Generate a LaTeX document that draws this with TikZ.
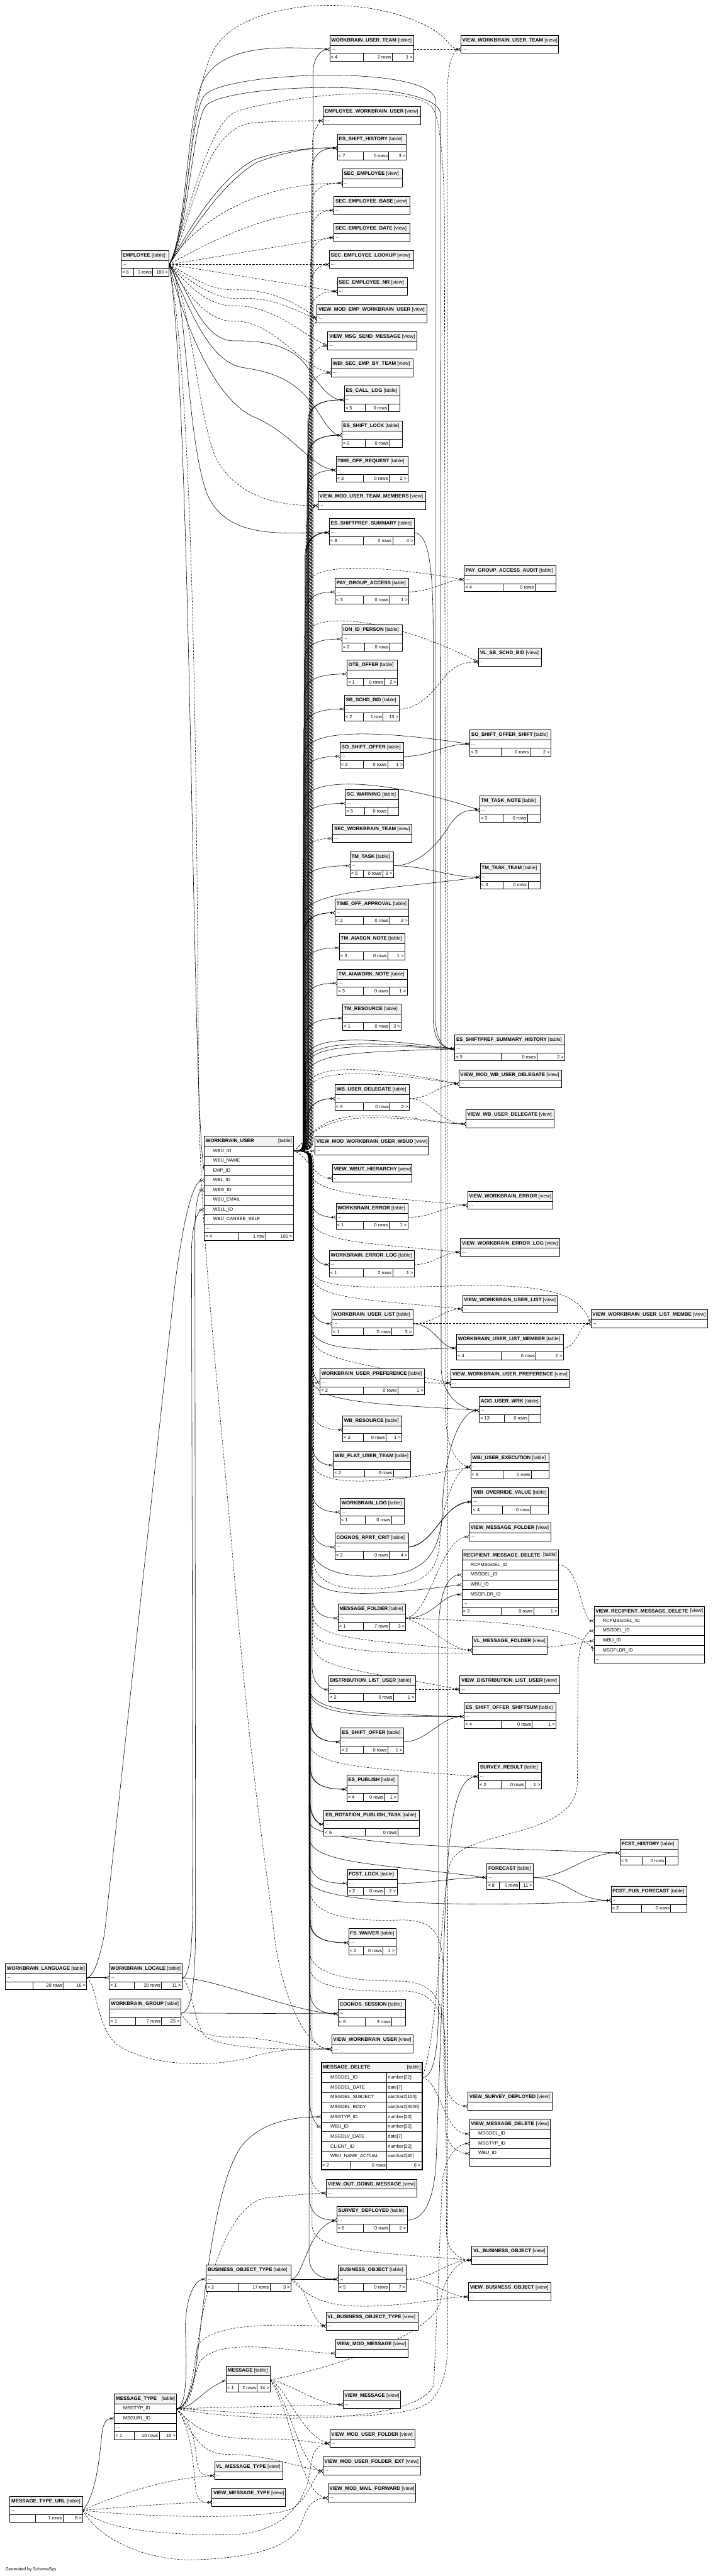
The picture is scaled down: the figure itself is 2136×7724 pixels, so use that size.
\documentclass[tikz,border=0pt]{standalone}
\usepackage{fontspec}
\setmainfont{Liberation Sans}
\usetikzlibrary{arrows.meta}
\pgfdeclarelayer{back}
\pgfdeclarelayer{bg}
\pgfsetlayers{back,bg,main}
\tikzset{
  bl/.style={line width=0.8pt},
  tf/.style={fill=black!5},
  tt/.style={inner sep=0pt,anchor=west,font=\fontsize{7.5}{9}\selectfont},
  rt/.style={inner sep=0pt,font=\fontsize{7}{8}\selectfont},
  st/.style={line width=0.55pt,-{Circle[open,length=3.5pt,width=3.5pt,line width=0.5pt]Straight Barb[reversed,length=3pt,width=5pt,line width=0.5pt]}},
  ik/.style={st,dash pattern=on 3pt off 2pt},
}
% view box
\newcommand\tv[5]{%
 \fill[white] (#2,#3) rectangle (#4,#3+54);
 \fill[tf] (#2,#3) rectangle (#4,#3+30);
 \draw[bl] (#2,#3) rectangle (#4,#3+54) (#2,#3+30) -- (#4,#3+30);
 \node[tt] (#1) at (#2+4,#3+15) {\textbf{#5} [view]};
 \node[rt,anchor=west] (#1-dots) at (#2+4,#3+43) {...};
 \coordinate (#1-in) at (#2,#3+42);
 \coordinate (#1-out) at (#4,#3+42);}
% table box
\newcommand\tbh[5]{%
 \fill[white] (#2,#3) rectangle (#4,#3+78);
 \fill[tf] (#2,#3) rectangle (#4,#3+30);
 \draw[bl] (#2,#3) rectangle (#4,#3+78) (#2,#3+30) -- (#4,#3+30) (#2,#3+54) -- (#4,#3+54);
 \node[tt] (#1) at (#2+4,#3+15) {\textbf{#5} [table]};
 \node[rt,anchor=west] (#1-dots) at (#2+4,#3+43) {...};
 \coordinate (#1-in) at (#2,#3+42);
 \coordinate (#1-out) at (#4,#3+42);}
\newcommand\tbf[9]{%
 \draw[bl] (#5,#3+54) -- (#5,#3+78) (#6,#3+54) -- (#6,#3+78);
 \node[rt,anchor=west] (#1-fl) at (#2+3,#3+66) {#7};
 \node[rt,anchor=east] (#1-fm) at (#6-3,#3+66) {#8};
 \node[rt,anchor=east] (#1-fr) at (#4-3,#3+66) {#9};}
% column rows
\newcommand\crow[6]{%
 \filldraw[bl,fill=white] (#2,#4) rectangle (#3,#5);
 \node[rt,anchor=west] (#1) at (#2+26,{(#4+#5)/2}) {#6};}
\newcommand\ctitle[6]{%
 \filldraw[bl,fill=black!5] (#2,#4) rectangle (#3,#4+30);
 \node[tt] (#1) at (#2+4,#4+15) {\textbf{#5}};
 \node[tt,anchor=east] (#1-k) at (#3-4,#4+15) {#6};}
\newcommand\mdrow[4]{%
 \draw[bl] (963,#2) -- (1265,#2);
 \node[rt,anchor=west] (#1) at (990,#2+14.75) {#3};
 \node[rt,anchor=west] (#1t) at (1162,#2+14.75) {#4};}
% bundle edges from WORKBRAIN_USER
\newcommand\wU[4]{\draw[#1] (wu-out) .. controls (#3,3451) and (#3,3445) .. (#3,3400) -- (#3,{#4+70}) .. controls (#3,{#4+25}) and ({#3+25},#4) .. (#2);}
\newcommand\wR[5]{\draw[#1] (wu-out) .. controls (#3,3451) and (#3,3445) .. (#3,3400) -- (#3,{#4-(#5)+80}) .. controls (#3,{#4-(#5)}) and +(-300,{-(#5)}) .. (#2);}
\newcommand\wD[4]{\draw[#1] (wu-out) .. controls (#3,3451) and (#3,3457) .. (#3,3500) -- (#3,{#4-70}) .. controls (#3,{#4-25}) and ({#3+25},#4) .. (#2);}
\newcommand\wRd[5]{\draw[#1] (wu-out) .. controls (#3,3451) and (#3,3457) .. (#3,3500) -- (#3,{#4-(#5)-80}) .. controls (#3,{#4-(#5)}) and +(-300,{-(#5)}) .. (#2);}
\begin{document}
\catcode`\_=12
\begin{tikzpicture}[x=0.5pt,y=-0.5pt]
\begin{pgfonlayer}{back}\fill[white] (0,0) rectangle (2136,7724);\end{pgfonlayer}
\useasboundingbox (0,0) rectangle (2136,7724);

% ---------------- views
\tv{vwut}{1381}{106}{1674}{VIEW_WORKBRAIN_USER_TEAM}
\tv{ewu}{969}{320}{1261}{EMPLOYEE_WORKBRAIN_USER}
\tv{se}{1026}{507}{1205}{SEC_EMPLOYEE}
\tv{seb}{1001}{589}{1229}{SEC_EMPLOYEE_BASE}
\tv{sed}{1001}{670}{1229}{SEC_EMPLOYEE_DATE}
\tv{sel}{987}{751}{1240}{SEC_EMPLOYEE_LOOKUP}
\tv{senr}{1011}{832}{1220}{SEC_EMPLOYEE_NR}
\tv{vmewu}{950}{914}{1279}{VIEW_MOD_EMP_WORKBRAIN_USER}
\tv{vmsm}{982}{995}{1249}{VIEW_MSG_SEND_MESSAGE}
\tv{wsebt}{993}{1076}{1237}{WBI_SEC_EMP_BY_TEAM}
\tv{vmutm}{953}{1474}{1275}{VIEW_MOD_USER_TEAM_MEMBERS}
\tv{vssb}{1434}{1943}{1623}{VL_SB_SCHD_BID}
\tv{swt}{997}{2472}{1234}{SEC_WORKBRAIN_TEAM}
\tv{vmwud}{1375}{3208}{1682}{VIEW_MOD_WB_USER_DELEGATE}
\tv{vwud}{1396}{3328}{1660}{VIEW_WB_USER_DELEGATE}
\tv{vmwuw}{944}{3409}{1284}{VIEW_MOD_WORKBRAIN_USER_WBUD}
\tv{vwh}{996}{3491}{1235}{VIEW_WBUT_HIERARCHY}
\tv{vwe}{1401}{3572}{1657}{VIEW_WORKBRAIN_ERROR}
\tv{vwel}{1380}{3713}{1677}{VIEW_WORKBRAIN_ERROR_LOG}
\tv{vwul}{1386}{3883}{1670}{VIEW_WORKBRAIN_USER_LIST}
\tv{vwulm}{1771}{3927}{2120}{VIEW_WORKBRAIN_USER_LIST_MEMBE}
\tv{vwup}{1351}{4106}{1705}{VIEW_WORKBRAIN_USER_PREFERENCE}
\tv{vmf}{1406}{4566}{1651}{VIEW_MESSAGE_FOLDER}
\tv{vlmf}{1415}{4906}{1640}{VL_MESSAGE_FOLDER}
\tv{vdlu}{1378}{5024}{1678}{VIEW_DISTRIBUTION_LIST_USER}
\tv{vwu}{994}{6102}{1237}{VIEW_WORKBRAIN_USER}
\tv{vsd}{1402}{6273}{1654}{VIEW_SURVEY_DEPLOYED}
\tv{vogm}{978}{6534}{1250}{VIEW_OUT_GOING_MESSAGE}
\tv{vlbo}{1414}{6735}{1641}{VL_BUSINESS_OBJECT}
\tv{vbo}{1404}{6845}{1651}{VIEW_BUSINESS_OBJECT}
\tv{vlbot}{977}{6933}{1252}{VL_BUSINESS_OBJECT_TYPE}
\tv{vmm}{1005}{7014}{1223}{VIEW_MOD_MESSAGE}
\tv{vm}{1028}{7168}{1201}{VIEW_MESSAGE}
\tv{vmuf}{988}{7285}{1244}{VIEW_MOD_USER_FOLDER}
\tv{vmufe}{968}{7367}{1261}{VIEW_MOD_USER_FOLDER_EXT}
\tv{vlmt}{643}{7381}{847}{VL_MESSAGE_TYPE}
\tv{vmmf}{983}{7448}{1245}{VIEW_MOD_MAIL_FORWARD}
\tv{vmt}{635}{7461}{855}{VIEW_MESSAGE_TYPE}

% ---------------- tables
\tbh{wut}{988}{106}{1240}{WORKBRAIN_USER_TEAM}\tbf{wut}{988}{106}{1240}{1088}{1176}{< 4}{2 rows}{1 >}
\tbh{esh}{1011}{402}{1218}{ES_SHIFT_HISTORY}\tbf{esh}{1011}{402}{1218}{1088}{1165}{< 7}{0 rows}{3 >}
\tbh{emp}{363}{751}{507}{EMPLOYEE}\tbf{emp}{363}{751}{507}{401}{458}{< 6}{3 rows}{180 >}
\tbh{ecl}{1032}{1157}{1198}{ES_CALL_LOG}\tbf{ecl}{1032}{1157}{1198}{1095}{1164}{< 5}{0 rows}{}
\tbh{esl}{1024}{1263}{1206}{ES_SHIFT_LOCK}\tbf{esl}{1024}{1263}{1206}{1095}{1168}{< 5}{0 rows}{}
\tbh{tor}{1007}{1368}{1222}{TIME_OFF_REQUEST}\tbf{tor}{1007}{1368}{1222}{1088}{1166}{< 3}{0 rows}{2 >}
\tbh{ess}{987}{1555}{1241}{ES_SHIFTPREF_SUMMARY}\tbf{ess}{987}{1555}{1241}{1088}{1177}{< 8}{0 rows}{4 >}
\tbh{pgaa}{1391}{1696}{1665}{PAY_GROUP_ACCESS_AUDIT}\tbf{pgaa}{1391}{1696}{1665}{1507}{1603}{< 4}{0 rows}{}
\tbh{pga}{1004}{1733}{1225}{PAY_GROUP_ACCESS}\tbf{pga}{1004}{1733}{1225}{1088}{1168}{< 3}{0 rows}{1 >}
\tbh{iip}{1024}{1874}{1205}{ION_ID_PERSON}\tbf{iip}{1024}{1874}{1205}{1093}{1168}{< 2}{0 rows}{}
\tbh{ote}{1040}{1979}{1191}{OTE_OFFER}\tbf{ote}{1040}{1979}{1191}{1088}{1151}{< 1}{0 rows}{2 >}
\tbh{ssb}{1032}{2084}{1197}{SB_SCHD_BID}\tbf{ssb}{1032}{2084}{1197}{1088}{1148}{< 2}{1 row}{13 >}
\tbh{soss}{1408}{2189}{1651}{SO_SHIFT_OFFER_SHIFT}\tbf{soss}{1408}{2189}{1651}{1501}{1588}{< 3}{0 rows}{2 >}
\tbh{sso}{1019}{2226}{1210}{SO_SHIFT_OFFER}\tbf{sso}{1019}{2226}{1210}{1088}{1162}{< 2}{0 rows}{1 >}
\tbh{scw}{1035}{2367}{1195}{SC_WARNING}\tbf{scw}{1035}{2367}{1195}{1093}{1162}{< 5}{0 rows}{}
\tbh{ttn}{1437}{2387}{1619}{TM_TASK_NOTE}\tbf{ttn}{1437}{2387}{1619}{1507}{1581}{< 3}{0 rows}{}
\tbh{tmt}{1049}{2554}{1179}{TM_TASK}\tbf{tmt}{1049}{2554}{1179}{1088}{1147}{< 5}{0 rows}{3 >}
\tbh{ttt}{1439}{2588}{1619}{TM_TASK_TEAM}\tbf{ttt}{1439}{2588}{1619}{1508}{1582}{< 3}{0 rows}{}
\tbh{toa}{1004}{2695}{1225}{TIME_OFF_APPROVAL}\tbf{toa}{1004}{2695}{1225}{1088}{1168}{< 2}{0 rows}{2 >}
\tbh{tan}{1017}{2800}{1213}{TM_AIASGN_NOTE}\tbf{tan}{1017}{2800}{1213}{1088}{1163}{< 3}{0 rows}{1 >}
\tbh{tawn}{1010}{2906}{1220}{TM_AIAWORK_NOTE}\tbf{tawn}{1010}{2906}{1220}{1088}{1167}{< 3}{0 rows}{1 >}
\tbh{tres}{1027}{3011}{1202}{TM_RESOURCE}\tbf{tres}{1027}{3011}{1202}{1088}{1168}{< 1}{0 rows}{3 >}
\tbh{essh}{1363}{3103}{1693}{ES_SHIFTPREF_SUMMARY_HISTORY}\tbf{essh}{1363}{3103}{1693}{1501}{1609}{< 9}{0 rows}{2 >}
\tbh{wud}{1004}{3252}{1226}{WB_USER_DELEGATE}\tbf{wud}{1004}{3252}{1226}{1088}{1169}{< 5}{0 rows}{2 >}
\tbh{we}{1007}{3608}{1222}{WORKBRAIN_ERROR}\tbf{we}{1007}{3608}{1222}{1088}{1166}{< 1}{0 rows}{1 >}
\tbh{wel}{987}{3750}{1241}{WORKBRAIN_ERROR_LOG}\tbf{wel}{987}{3750}{1241}{1088}{1177}{< 1}{2 rows}{1 >}
\tbh{wul}{994}{3927}{1237}{WORKBRAIN_USER_LIST}\tbf{wul}{994}{3927}{1237}{1088}{1174}{< 1}{0 rows}{3 >}
\tbh{wulm}{1368}{4000}{1688}{WORKBRAIN_USER_LIST_MEMBER}\tbf{wulm}{1368}{4000}{1688}{1501}{1606}{< 4}{0 rows}{1 >}
\tbh{wup}{959}{4104}{1272}{WORKBRAIN_USER_PREFERENCE}\tbf{wup}{959}{4104}{1272}{1088}{1192}{< 2}{0 rows}{1 >}
\tbh{auw}{1436}{4187}{1621}{AGG_USER_WRK}\tbf{auw}{1436}{4187}{1621}{1512}{1584}{< 13}{0 rows}{}
\tbh{wbr}{1027}{4245}{1204}{WB_RESOURCE}\tbf{wbr}{1027}{4245}{1204}{1088}{1157}{< 2}{0 rows}{1 >}
\tbh{wfut}{999}{4351}{1231}{WBI_FLAT_USER_TEAM}\tbf{wfut}{999}{4351}{1231}{1093}{1179}{< 2}{0 rows}{}
\tbh{wue}{1411}{4356}{1645}{WBI_USER_EXECUTION}\tbf{wue}{1411}{4356}{1645}{1507}{1593}{< 5}{0 rows}{}
\tbh{wov}{1414}{4461}{1643}{WBI_OVERRIDE_VALUE}\tbf{wov}{1414}{4461}{1643}{1506}{1591}{< 4}{0 rows}{}
\tbh{wlog}{1019}{4492}{1211}{WORKBRAIN_LOG}\tbf{wlog}{1019}{4492}{1211}{1095}{1173}{< 1}{0 rows}{}
\tbh{crc}{1004}{4597}{1224}{COGNOS_RPRT_CRIT}\tbf{crc}{1004}{4597}{1224}{1088}{1167}{< 2}{0 rows}{4 >}
\tbh{mf}{1013}{4810}{1216}{MESSAGE_FOLDER}\tbf{mf}{1013}{4810}{1216}{1088}{1167}{< 1}{7 rows}{3 >}
\tbh{dlu}{985}{5024}{1245}{DISTRIBUTION_LIST_USER}\tbf{dlu}{985}{5024}{1245}{1088}{1179}{< 2}{0 rows}{1 >}
\tbh{esos}{1391}{5105}{1666}{ES_SHIFT_OFFER_SHIFTSUM}\tbf{esos}{1391}{5105}{1666}{1501}{1595}{< 4}{0 rows}{1 >}
\tbh{eso}{1020}{5181}{1209}{ES_SHIFT_OFFER}\tbf{eso}{1020}{5181}{1209}{1088}{1162}{< 2}{0 rows}{1 >}
\tbh{sr}{1434}{5285}{1622}{SURVEY_RESULT}\tbf{sr}{1434}{5285}{1622}{1502}{1574}{< 2}{0 rows}{1 >}
\tbh{esp}{1039}{5323}{1192}{ES_PUBLISH}\tbf{esp}{1039}{5323}{1192}{1088}{1152}{< 4}{0 rows}{1 >}
\tbh{erpt}{971}{5428}{1257}{ES_ROTATION_PUBLISH_TASK}\tbf{erpt}{971}{5428}{1257}{1094}{1193}{< 6}{0 rows}{}
\tbh{fh}{1858}{5514}{2032}{FCST_HISTORY}\tbf{fh}{1858}{5514}{2032}{1924}{1994}{< 5}{0 rows}{}
\tbh{fc}{1459}{5588}{1598}{FORECAST}\tbf{fc}{1459}{5588}{1598}{1497}{1557}{< 8}{0 rows}{11 >}
\tbh{fl}{1041}{5605}{1190}{FCST_LOCK}\tbf{fl}{1041}{5605}{1190}{1088}{1152}{< 2}{0 rows}{2 >}
\tbh{fpf}{1831}{5656}{2058}{FCST_PUB_FORECAST}\tbf{fpf}{1831}{5656}{2058}{1923}{2010}{< 2}{0 rows}{}
\tbh{fw}{1045}{5783}{1186}{FS_WAIVER}\tbf{fw}{1045}{5783}{1186}{1088}{1148}{< 2}{0 rows}{1 >}
\tbh{wlang}{16}{5888}{260}{WORKBRAIN_LANGUAGE}\tbf{wlang}{16}{5888}{260}{98}{191}{}{20 rows}{16 >}
\tbh{wloc}{327}{5888}{546}{WORKBRAIN_LOCALE}\tbf{wloc}{327}{5888}{546}{402}{484}{< 1}{20 rows}{11 >}
\tbh{wgrp}{328}{5994}{542}{WORKBRAIN_GROUP}\tbf{wgrp}{328}{5994}{542}{406}{484}{< 1}{7 rows}{25 >}
\tbh{cs}{1013}{5996}{1215}{COGNOS_SESSION}\tbf{cs}{1013}{5996}{1215}{1094}{1174}{< 6}{3 rows}{}
\tbh{sd}{1009}{6615}{1220}{SURVEY_DEPLOYED}\tbf{sd}{1009}{6615}{1220}{1088}{1167}{< 6}{0 rows}{2 >}
\tbh{bot}{618}{6792}{872}{BUSINESS_OBJECT_TYPE}\tbf{bot}{618}{6792}{872}{714}{809}{< 2}{17 rows}{3 >}
\tbh{bo}{1013}{6792}{1218}{BUSINESS_OBJECT}\tbf{bo}{1013}{6792}{1218}{1088}{1166}{< 5}{0 rows}{7 >}
\tbh{msg}{678}{7094}{810}{MESSAGE}\tbf{msg}{678}{7094}{810}{714}{771}{< 1}{2 rows}{14 >}
\tbh{mtu}{30}{7485}{248}{MESSAGE_TYPE_URL}\tbf{mtu}{30}{7485}{248}{106}{189}{}{7 rows}{8 >}

% ---------------- WORKBRAIN_USER
\ctitle{wu}{612}{879}{3407}{WORKBRAIN_USER}{[table]}
\crow{wu-c1}{612}{879}{3437}{3466}{WBU_ID}
\crow{wu-c2}{612}{879}{3466}{3495}{WBU_NAME}
\crow{wu-c3}{612}{879}{3495}{3525}{EMP_ID}
\crow{wu-c4}{612}{879}{3525}{3554}{WBL_ID}
\crow{wu-c5}{612}{879}{3554}{3583}{WBG_ID}
\crow{wu-c6}{612}{879}{3583}{3613}{WBU_EMAIL}
\crow{wu-c7}{612}{879}{3613}{3642}{WBLL_ID}
\crow{wu-c8}{612}{879}{3642}{3671}{WBU_CANSEE_SELF}
\filldraw[bl,fill=white] (612,3671) rectangle (879,3695);
\node[rt,anchor=west] (wu-dots) at (616,3684) {...};
\filldraw[bl,fill=white] (612,3695) rectangle (879,3719);
\draw[bl] (713,3695) -- (713,3719) (796,3695) -- (796,3719);
\node[rt,anchor=west] (wu-fl) at (615,3707) {< 4};
\node[rt,anchor=east] (wu-fm) at (793,3707) {1 row};
\node[rt,anchor=east] (wu-fr) at (876,3707) {105 >};
\coordinate (wu-out) at (879,3451);
\coordinate (wu-r3) at (612,3510);
\coordinate (wu-r4) at (612,3539);
\coordinate (wu-r5) at (612,3568);
\coordinate (wu-r7) at (612,3627);

% ---------------- RECIPIENT_MESSAGE_DELETE
\ctitle{rmd}{1384}{1673}{4648}{RECIPIENT_MESSAGE_DELETE}{[table]}
\crow{rmd-c1}{1384}{1673}{4678}{4707}{RCPMSGDEL_ID}
\crow{rmd-c2}{1384}{1673}{4707}{4737}{MSGDEL_ID}
\crow{rmd-c3}{1384}{1673}{4737}{4766}{WBU_ID}
\crow{rmd-c4}{1384}{1673}{4766}{4796}{MSGFLDR_ID}
\filldraw[bl,fill=white] (1384,4796) rectangle (1673,4820);
\node[rt,anchor=west] (rmd-dots) at (1388,4809) {...};
\filldraw[bl,fill=white] (1384,4820) rectangle (1673,4843);
\draw[bl] (1501,4820) -- (1501,4843) (1599,4820) -- (1599,4843);
\node[rt,anchor=west] (rmd-fl) at (1387,4832) {< 3};
\node[rt,anchor=east] (rmd-fm) at (1596,4832) {0 rows};
\node[rt,anchor=east] (rmd-fr) at (1670,4832) {1 >};
\coordinate (rmd-o1) at (1673,4692);
\coordinate (rmd-r2) at (1384,4722);
\coordinate (rmd-r3) at (1384,4751);
\coordinate (rmd-r4) at (1384,4781);

% ---------------- VIEW_RECIPIENT_MESSAGE_DELETE
\ctitle{vrmd}{1780}{2111}{4816}{VIEW_RECIPIENT_MESSAGE_DELETE}{[view]}
\crow{vrmd-c1}{1780}{2111}{4846}{4875}{RCPMSGDEL_ID}
\crow{vrmd-c2}{1780}{2111}{4875}{4904}{MSGDEL_ID}
\crow{vrmd-c3}{1780}{2111}{4904}{4934}{WBU_ID}
\crow{vrmd-c4}{1780}{2111}{4934}{4963}{MSGFLDR_ID}
\filldraw[bl,fill=white] (1780,4963) rectangle (2111,4987);
\node[rt,anchor=west] (vrmd-dots) at (1784,4976) {...};
\coordinate (vrmd-r1) at (1780,4860);
\coordinate (vrmd-r2) at (1780,4890);
\coordinate (vrmd-r3) at (1780,4919);
\coordinate (vrmd-r4) at (1780,4948);

% ---------------- MESSAGE_DELETE
\fill[white] (963,6184) rectangle (1265,6506);
\fill[tf] (963,6184) rectangle (1265,6215);
\node[tt] (md) at (967,6199) {\textbf{MESSAGE_DELETE}};
\node[tt,anchor=east] (md-k) at (1261,6199) {[table]};
\mdrow{md1}{6215}{MSGDEL_ID}{number[22]}
\mdrow{md2}{6244.5}{MSGDEL_DATE}{date[7]}
\mdrow{md3}{6274}{MSGDEL_SUBJECT}{varchar2[100]}
\mdrow{md4}{6303.5}{MSGDEL_BODY}{varchar2[4000]}
\mdrow{md5}{6333}{MSGTYP_ID}{number[22]}
\mdrow{md6}{6362.5}{WBU_ID}{number[22]}
\mdrow{md7}{6392}{MSGDLV_DATE}{date[7]}
\mdrow{md8}{6421.5}{CLIENT_ID}{number[22]}
\mdrow{md9}{6451}{WBU_NAME_ACTUAL}{varchar2[40]}
\draw[bl] (963,6480.5) -- (1265,6480.5);
\draw[bl] (1159,6215) -- (1159,6480.5);
\draw[bl] (1049,6480.5) -- (1049,6506) (1159,6480.5) -- (1159,6506);
\node[rt,anchor=west] (md-fl) at (966,6493) {< 2};
\node[rt,anchor=east] (md-fm) at (1156,6493) {0 rows};
\node[rt,anchor=east] (md-fr) at (1261,6493) {6 >};
\draw[line width=1.6pt] (963,6184) rectangle (1265,6506);
\coordinate (md-o1) at (1265,6229);
\coordinate (md-r5) at (963,6347);
\coordinate (md-r6) at (963,6377);

% ---------------- VIEW_MESSAGE_DELETE
\ctitle{vmd}{1407}{1649}{6354}{VIEW_MESSAGE_DELETE}{[view]}
\crow{vmd-c1}{1407}{1649}{6384}{6413}{MSGDEL_ID}
\crow{vmd-c2}{1407}{1649}{6413}{6442}{MSGTYP_ID}
\crow{vmd-c3}{1407}{1649}{6442}{6472}{WBU_ID}
\filldraw[bl,fill=white] (1407,6472) rectangle (1649,6495);
\node[rt,anchor=west] (vmd-dots) at (1411,6484) {...};
\coordinate (vmd-r1) at (1407,6398);
\coordinate (vmd-r2) at (1407,6427);
\coordinate (vmd-r3) at (1407,6457);

% ---------------- MESSAGE_TYPE
\ctitle{mt}{343}{529}{7178}{MESSAGE_TYPE}{[table]}
\crow{mt-c1}{343}{529}{7208}{7237}{MSGTYP_ID}
\crow{mt-c2}{343}{529}{7237}{7266}{MSGURL_ID}
\filldraw[bl,fill=white] (343,7266) rectangle (529,7291);
\node[rt,anchor=west] (mt-dots) at (347,7279) {...};
\filldraw[bl,fill=white] (343,7291) rectangle (529,7315);
\draw[bl] (402,7291) -- (402,7315) (477,7291) -- (477,7315);
\node[rt,anchor=west] (mt-fl) at (346,7303) {< 1};
\node[rt,anchor=east] (mt-fm) at (474,7303) {10 rows};
\node[rt,anchor=east] (mt-fr) at (526,7303) {15 >};
\coordinate (mt-o1) at (529,7222);
\coordinate (mt-r2) at (343,7251);

\node[rt,anchor=west,font=\fontsize{6.5}{8}\selectfont] (gen) at (16,7705) {Generated by SchemaSpy};

% ================= connectors
\begin{pgfonlayer}{bg}
% --- from EMPLOYEE
\draw[st] (emp-out) .. controls (560,700) and (560,330) .. (610,240) .. controls (670,130) and (850,140) .. (wut-in);
\draw[ik] (emp-out) .. controls (570,700) and (560,300) .. (640,150) .. controls (720,0) and (1100,-30) .. (1300,90) .. controls (1345,118) and (1350,148) .. (vwut-in);
\draw[ik] (emp-out) .. controls (570,700) and (600,380) .. (760,368) .. controls (850,362) and (930,362) .. (ewu-in);
\draw[st] (emp-out) .. controls (560,700) and (650,540) .. (760,480) .. controls (850,445) and (950,444) .. (esh-in);
\draw[st] (emp-out) .. controls (565,710) and (660,550) .. (770,487) .. controls (860,452) and (950,440) .. (esh-in);
\draw[ik] (emp-out) .. controls (570,680) and (750,549) .. (se-in);
\draw[ik] (emp-out) .. controls (600,740) and (800,631) .. (seb-in);
\draw[ik] (emp-out) -- (sed-in);
\draw[ik] (emp-out) -- (sel-in);
\draw[ik] (emp-out) -- (senr-in);
\draw[ik] (emp-out) .. controls (560,820) and (620,870) .. (700,869) .. controls (800,866) and (880,900) .. (vmewu-in);
\draw[ik] (emp-out) .. controls (565,840) and (640,900) .. (720,895) .. controls (820,890) and (880,930) .. (vmewu-in);
\draw[ik] (emp-out) .. controls (560,850) and (620,918) .. (700,917) .. controls (820,914) and (900,1000) .. (vmsm-in);
\draw[ik] (emp-out) .. controls (560,880) and (620,964) .. (700,963) .. controls (820,960) and (900,1100) .. (wsebt-in);
\draw[st] (emp-out) .. controls (560,850) and (600,1022) .. (700,1022) .. controls (800,1020) and (880,1040) .. (920,1100) .. controls (960,1160) and (990,1199) .. (ecl-in);
\draw[st] (emp-out) .. controls (560,900) and (620,1090) .. (733,1103) .. controls (850,1120) and (900,1160) .. (950,1230) .. controls (980,1280) and (1000,1305) .. (esl-in);
\draw[st] (emp-out) .. controls (560,1000) and (650,1200) .. (760,1250) .. controls (880,1300) and (930,1400) .. (tor-in);
\draw[ik] (emp-out) .. controls (575,900) and (590,1250) .. (650,1380) .. controls (720,1500) and (850,1516) .. (vmutm-in);
\draw[st] (emp-out) .. controls (560,850) and (555,1300) .. (620,1480) .. controls (680,1620) and (850,1597) .. (ess-in);
\draw[st] (emp-out) .. controls (575,1200) and (575,3300) .. (wu-r3);
\draw[ik] (emp-out) .. controls (585,1200) and (590,2500) .. (595,3250) .. controls (600,3700) and (640,4000) .. (700,4700) .. controls (760,5400) and (800,5600) .. (824,5820) .. controls (850,6000) and (920,6144) .. (vwu-in);
\draw[st] (emp-out) .. controls (560,700) and (570,350) .. (610,290) .. controls (650,215) and (1290,190) .. (1305,300) -- (1305,3050) .. controls (1305,3120) and (1330,3145) .. (essh-in);
\draw[st] (emp-out) .. controls (565,700) and (575,380) .. (615,320) .. controls (660,250) and (1305,230) .. (1320,340) -- (1322,4100) .. controls (1323,4190) and (1390,4229) .. (auw-in);
\draw[ik] (emp-out) .. controls (570,650) and (620,350) .. (721,330) .. controls (900,280) and (1260,250) .. (1300,330) .. controls (1320,370) and (1332,500) .. (1332,700) -- (1336,4250) .. controls (1337,4350) and (1380,4398) .. (wue-in);

% --- from WORKBRAIN_USER, upwards
\wU{st}{wut-in}{938}{148}
\wU{ik}{ewu-in}{936}{362}
\wU{st}{esh-in}{934}{444}
\wU{ik}{se-in}{933}{549}
\wU{ik}{seb-in}{932}{631}
\wU{ik}{sed-in}{931}{712}
\wU{ik}{sel-in}{930}{793}
\wU{ik}{senr-in}{929}{874}
\wU{ik}{vmewu-in}{928}{956}
\wU{ik}{vmsm-in}{927}{1037}
\wU{ik}{wsebt-in}{926}{1118}
\wU{st}{ecl-in}{925}{1199}
\wU{st}{ecl-in}{922}{1199}
\wU{st}{esl-in}{924}{1305}
\wU{st}{esl-in}{921}{1305}
\wU{st}{tor-in}{920}{1410}
\wU{ik}{vmutm-in}{919}{1516}
\wU{ik}{vmutm-in}{917}{1516}
\wU{st}{ess-in}{918}{1597}
\wU{st}{ess-in}{916}{1597}
\wU{st}{ess-in}{914}{1597}
\wR{ik}{pgaa-in}{915}{1738}{50}
\wU{st}{pga-in}{913}{1775}
\wU{st}{iip-in}{912}{1916}
\wR{ik}{vssb-in}{911}{1985}{150}
\wU{st}{ote-in}{911}{2021}
\wU{st}{ssb-in}{910}{2126}
\wR{st}{soss-in}{910}{2231}{45}
\wU{st}{sso-in}{909}{2268}
\wU{st}{scw-in}{909}{2409}
\wR{st}{ttn-in}{909}{2429}{100}
\wU{ik}{swt-in}{908}{2514}
\wU{st}{tmt-in}{908}{2596}
\wR{st}{ttt-in}{908}{2630}{-40}
\wU{st}{toa-in}{908}{2737}
\wU{st}{toa-in}{910}{2737}
\wU{st}{tan-in}{910}{2842}
\wU{st}{tawn-in}{911}{2948}
\wU{st}{tres-in}{912}{3053}
\wR{st}{essh-in}{913}{3145}{40}
\wR{st}{essh-in}{914}{3145}{25}
\wR{st}{essh-in}{915}{3145}{15}
\wR{st}{essh-in}{916}{3145}{-10}
\wR{ik}{vmwud-in}{917}{3250}{60}
\wR{ik}{vmwud-in}{918}{3250}{45}
\wU{st}{wud-in}{920}{3294}
\wU{ik}{wud-in}{922}{3294}
\draw[ik] (wu-out) .. controls (925,3420) and (940,3345) .. (1100,3345) .. controls (1250,3345) and (1320,3370) .. (vwud-in);
\draw[ik] (wu-out) .. controls (920,3425) and (935,3355) .. (1100,3352) .. controls (1250,3350) and (1320,3370) .. (vwud-in);

% --- from WORKBRAIN_USER, downwards
\draw[ik] (wu-out) -- (vmwuw-in);
\draw[ik] (wu-out) .. controls (920,3460) and (940,3533) .. (vwh-in);
\wRd{ik}{vwe-in}{926}{3614}{30}
\wD{st}{we-in}{927}{3650}
\wRd{ik}{vwel-in}{928}{3755}{30}
\wD{st}{wel-in}{929}{3792}
\wRd{ik}{vwul-in}{930}{3925}{30}
\wD{st}{wul-in}{930}{3969}
\draw[ik] (wu-out) .. controls (931,3451) and (931,3457) .. (931,3500) -- (931,3800) .. controls (933,3870) and (1100,3862) .. (1400,3855) .. controls (1700,3850) and (1740,3900) .. (vwulm-in);
\wRd{st}{wulm-in}{931}{4042}{-10}
\wD{st}{wup-in}{932}{4146}
\wRd{ik}{vwup-in}{932}{4148}{70}
\wRd{st}{auw-in}{933}{4229}{20}
\draw[st] (wu-out) .. controls (926,3451) and (926,3457) .. (926,3500) -- (926,4620) .. controls (928,4720) and (1050,4730) .. (1150,4725) .. controls (1280,4715) and (1322,4650) .. (1326,4520) .. controls (1330,4350) and (1380,4229) .. (auw-in);
\wD{ik}{wbr-in}{933}{4287}
\wD{st}{wfut-in}{934}{4393}
\wRd{ik}{wue-in}{934}{4398}{-60}
\draw[ik] (wu-out) .. controls (940,3451) and (940,3457) .. (940,3500) -- (940,4680) .. controls (942,4760) and (1050,4770) .. (1150,4762) .. controls (1290,4748) and (1312,4700) .. (1318,4620) .. controls (1325,4500) and (1370,4398) .. (wue-in);
\wD{st}{wlog-in}{934}{4534}
\wD{st}{crc-in}{934}{4639}
\wRd{st}{rmd-r3}{932}{4751}{-40}
\wD{st}{mf-in}{935}{4852}
\wRd{ik}{vlmf-in}{935}{4948}{30}
\wRd{ik}{vrmd-r3}{938}{4919}{-55}
\wD{st}{dlu-in}{935}{5066}
\wRd{ik}{vdlu-in}{936}{5066}{60}
\wRd{st}{esos-in}{926}{5147}{10}
\wRd{st}{esos-in}{928}{5147}{0}
\wD{st}{eso-in}{929}{5223}
\wD{st}{eso-in}{931}{5223}
\wRd{ik}{sr-in}{926}{5327}{25}
\wD{st}{esp-in}{928}{5365}
\wD{st}{esp-in}{930}{5365}
\wD{st}{erpt-in}{927}{5470}
\wD{st}{erpt-in}{929}{5470}
\wRd{st}{fh-in}{926}{5556}{15}
\wRd{st}{fc-in}{927}{5630}{40}
\wD{st}{fl-in}{928}{5647}
\wRd{st}{fpf-in}{926}{5698}{-20}
\wD{st}{fw-in}{928}{5825}
\wD{st}{fw-in}{930}{5825}
\draw[ik] (wu-out) .. controls (926,3451) and (926,3457) .. (926,3500) -- (926,5660) .. controls (928,5760) and (1100,5760) .. (1200,5757) .. controls (1300,5755) and (1325,5800) .. (1328,5900) -- (1330,6200) .. controls (1332,6280) and (1360,6315) .. (vsd-in);
\draw[ik] (wu-out) .. controls (927,3451) and (927,3457) .. (927,3500) -- (927,5850) .. controls (929,5935) and (1100,5940) .. (1200,5940) .. controls (1300,5942) and (1330,6000) .. (1332,6100) -- (1335,6380) .. controls (1337,6430) and (1370,6457) .. (vmd-r3);
\draw[ik] (wu-out) .. controls (928,3451) and (928,3457) .. (928,3500) -- (928,5900) .. controls (930,5970) and (1100,5972) .. (1200,5970) .. controls (1300,5966) and (1334,6030) .. (1336,6150) -- (1338,6700) .. controls (1340,6750) and (1380,6777) .. (vlbo-in);
\wD{st}{cs-in}{929}{6038}
\wD{ik}{vwu-in}{930}{6144}
\wD{st}{md-r6}{929}{6377}
\wD{ik}{vogm-in}{928}{6576}
\wD{st}{sd-in}{927}{6657}
\wRd{ik}{vlbo-in}{935}{6777}{25}
\wD{st}{bo-in}{926}{6834}

% --- other connectors
\draw[ik] (wut-out) -- (vwut-in);
\draw[ik] (pga-out) .. controls (1300,1773) and (1340,1738) .. (pgaa-in);
\draw[ik] (ssb-out) .. controls (1260,2126) and (1300,2070) .. (1340,2020) .. controls (1370,1990) and (1400,1985) .. (vssb-in);
\draw[st] (sso-out) .. controls (1290,2268) and (1330,2231) .. (soss-in);
\draw[st] (tmt-out) .. controls (1260,2596) and (1320,2520) .. (1350,2470) .. controls (1380,2430) and (1400,2429) .. (ttn-in);
\draw[st] (tmt-out) .. controls (1280,2596) and (1340,2630) .. (ttt-in);
\draw[st] (ess-out) .. controls (1285,1600) and (1298,1700) .. (1298,1900) -- (1298,3050) .. controls (1298,3125) and (1330,3145) .. (essh-in);
\draw[ik] (wud-out) .. controls (1290,3294) and (1320,3250) .. (vmwud-in);
\draw[ik] (wud-out) .. controls (1290,3294) and (1320,3370) .. (vwud-in);
\draw[ik] (we-out) .. controls (1300,3650) and (1330,3614) .. (vwe-in);
\draw[ik] (wel-out) .. controls (1300,3792) and (1330,3755) .. (vwel-in);
\draw[ik] (wul-out) .. controls (1300,3969) and (1330,3925) .. (vwul-in);
\draw[ik] (wul-out) -- (vwulm-in);
\draw[ik] (wulm-out) .. controls (1730,4042) and (1735,3969) .. (vwulm-in);
\draw[st] (wul-out) .. controls (1300,3969) and (1320,4042) .. (wulm-in);
\draw[ik] (wup-out) -- (vwup-in);
\draw[st] (crc-out) .. controls (1300,4635) and (1330,4503) .. (wov-in);
\draw[st] (crc-out) .. controls (1310,4625) and (1320,4512) .. (wov-in);
\draw[ik] (mf-out) .. controls (1290,4840) and (1320,4610) .. (vmf-in);
\draw[st] (mf-out) .. controls (1300,4852) and (1320,4781) .. (rmd-r4);
\draw[st] (md-o1) .. controls (1300,6229) and (1314,6150) .. (1314,6000) -- (1314,4900) .. controls (1314,4780) and (1340,4722) .. (rmd-r2);
\draw[ik] (rmd-o1) .. controls (1740,4692) and (1740,4860) .. (vrmd-r1);
\draw[ik] (md-o1) .. controls (1314,6100) and (1320,5700) .. (1348,5591) .. controls (1380,5480) and (1720,5520) .. (1730,5350) -- (1732,5000) .. controls (1735,4920) and (1760,4890) .. (vrmd-r2);
\draw[ik] (mf-out) .. controls (1450,4860) and (1720,4870) .. (vrmd-r4);
\draw[ik] (mf-out) .. controls (1300,4880) and (1350,4948) .. (vlmf-in);
\draw[ik] (dlu-out) -- (vdlu-in);
\draw[st] (eso-out) .. controls (1280,5223) and (1320,5147) .. (esos-in);
\draw[st] (sd-out) .. controls (1270,6657) and (1305,6600) .. (1308,6450) -- (1335,5700) .. controls (1345,5450) and (1370,5327) .. (sr-in);
\draw[st] (fc-out) .. controls (1700,5630) and (1750,5556) .. (fh-in);
\draw[st] (fl-out) .. controls (1300,5647) and (1350,5630) .. (fc-in);
\draw[st] (fc-out) .. controls (1700,5630) and (1720,5698) .. (fpf-in);
\draw[ik] (md-o1) .. controls (1320,6240) and (1330,6398) .. (vmd-r1);
\draw[ik] (mt-o1) .. controls (700,7260) and (1250,7280) .. (1300,7150) -- (1325,6550) .. controls (1330,6470) and (1370,6427) .. (vmd-r2);
\draw[ik] (mt-o1) .. controls (700,7230) and (1200,7280) .. (1290,7200) .. controls (1330,7160) and (1342,7100) .. (1342,7000) -- (1340,300) .. controls (1340,200) and (1355,148) .. (vwut-in);
\draw[st] (mt-o1) .. controls (560,7222) and (580,7150) .. (590,7080) .. controls (620,6800) and (650,6550) .. (720,6440) .. controls (780,6360) and (880,6348) .. (md-r5);
\draw[ik] (mt-o1) .. controls (570,7222) and (585,7150) .. (590,7050) .. controls (620,6800) and (700,6600) .. (800,6590) .. controls (900,6580) and (940,6576) .. (vogm-in);
\draw[st] (bot-out) .. controls (910,6834) and (920,6680) .. (sd-in);
\draw[st] (bot-out) -- (bo-in);
\draw[ik] (bo-out) .. controls (1300,6834) and (1340,6777) .. (vlbo-in);
\draw[ik] (bo-out) .. controls (1300,6834) and (1340,6887) .. (vbo-in);
\draw[ik] (bot-out) .. controls (930,6900) and (1000,6916) .. (1100,6915) .. controls (1250,6912) and (1330,6887) .. (vbo-in);
\draw[ik] (bot-out) .. controls (920,6850) and (930,6960) .. (vlbot-in);
\draw[ik] (mt-o1) .. controls (570,7222) and (580,7100) .. (590,7040) .. controls (620,6960) and (850,6970) .. (vlbot-in);
\draw[ik] (mt-o1) .. controls (570,7222) and (580,7120) .. (600,7080) .. controls (660,7000) and (900,7056) .. (vmm-in);
\draw[st] (mt-o1) .. controls (580,7222) and (600,7170) .. (msg-in);
\draw[st] (mt-o1) .. controls (560,7222) and (560,7100) .. (556,7000) .. controls (552,6900) and (580,6834) .. (bot-in);
\draw[ik] (msg-out) .. controls (1000,7100) and (1300,7000) .. (1320,6900) .. controls (1330,6820) and (1380,6777) .. (vlbo-in);
\draw[ik] (msg-out) .. controls (880,7150) and (950,7210) .. (vm-in);
\draw[ik] (mt-o1) -- (vm-in);
\draw[ik] (mt-o1) .. controls (600,7300) and (650,7315) .. (817,7313) .. controls (900,7312) and (940,7327) .. (vmuf-in);
\draw[ik] (msg-out) .. controls (860,7160) and (900,7300) .. (vmuf-in);
\draw[ik] (mt-o1) .. controls (580,7300) and (600,7359) .. (681,7359) .. controls (800,7359) and (900,7400) .. (vmufe-in);
\draw[ik] (msg-out) .. controls (870,7200) and (900,7400) .. (vmufe-in);
\draw[ik] (msg-out) .. controls (880,7250) and (900,7480) .. (vmmf-in);
\draw[ik] (mt-o1) .. controls (575,7260) and (586,7330) .. (590,7380) .. controls (595,7420) and (610,7423) .. (vlmt-in);
\draw[ik] (mt-o1) .. controls (575,7280) and (580,7400) .. (586,7460) .. controls (590,7500) and (605,7503) .. (vmt-in);
\draw[st] (mtu-out) .. controls (290,7480) and (300,7350) .. (305,7300) .. controls (310,7260) and (320,7252) .. (mt-r2);
\draw[ik] (mtu-out) .. controls (350,7480) and (500,7430) .. (vlmt-in);
\draw[ik] (mtu-out) .. controls (400,7515) and (550,7503) .. (vmt-in);
\draw[ik] (mtu-out) .. controls (400,7545) and (800,7560) .. (880,7520) .. controls (930,7480) and (940,7420) .. (vmufe-in);
\draw[ik] (mtu-out) .. controls (320,7590) and (500,7600) .. (681,7600) .. controls (850,7600) and (920,7500) .. (930,7400) .. controls (935,7350) and (955,7327) .. (vmuf-in);
\draw[ik] (mtu-out) .. controls (300,7620) and (450,7680) .. (586,7675) .. controls (750,7670) and (880,7640) .. (905,7560) .. controls (920,7510) and (945,7490) .. (vmmf-in);
% --- left side: language, locale, group
\draw[st] (wlang-out) -- (wloc-in);
\draw[st] (wlang-out) .. controls (285,5925) and (300,5860) .. (313,5800) -- (522,3870) .. controls (545,3680) and (575,3540) .. (wu-r4);
\draw[st] (wgrp-out) .. controls (575,6036) and (586,5950) .. (586,5750) -- (584,3700) .. controls (584,3610) and (595,3568) .. (wu-r5);
\draw[st] (wloc-out) .. controls (568,5930) and (578,5850) .. (578,5650) -- (574,3760) .. controls (573,3680) and (592,3627) .. (wu-r7);
\draw[st] (wloc-out) .. controls (650,5935) and (900,6038) .. (cs-in);
\draw[st] (wgrp-out) -- (cs-in);
\draw[ik] (wgrp-out) .. controls (570,6085) and (620,6108) .. (681,6108) .. controls (800,6105) and (900,6144) .. (vwu-in);
\draw[ik] (wloc-out) .. controls (580,5960) and (580,6080) .. (620,6110) .. controls (700,6150) and (900,6144) .. (vwu-in);
\draw[ik] (wlang-out) .. controls (290,5950) and (290,6080) .. (350,6130) .. controls (450,6200) and (650,6200) .. (763,6165) .. controls (850,6140) and (930,6144) .. (vwu-in);
\end{pgfonlayer}
\end{tikzpicture}
\end{document}
